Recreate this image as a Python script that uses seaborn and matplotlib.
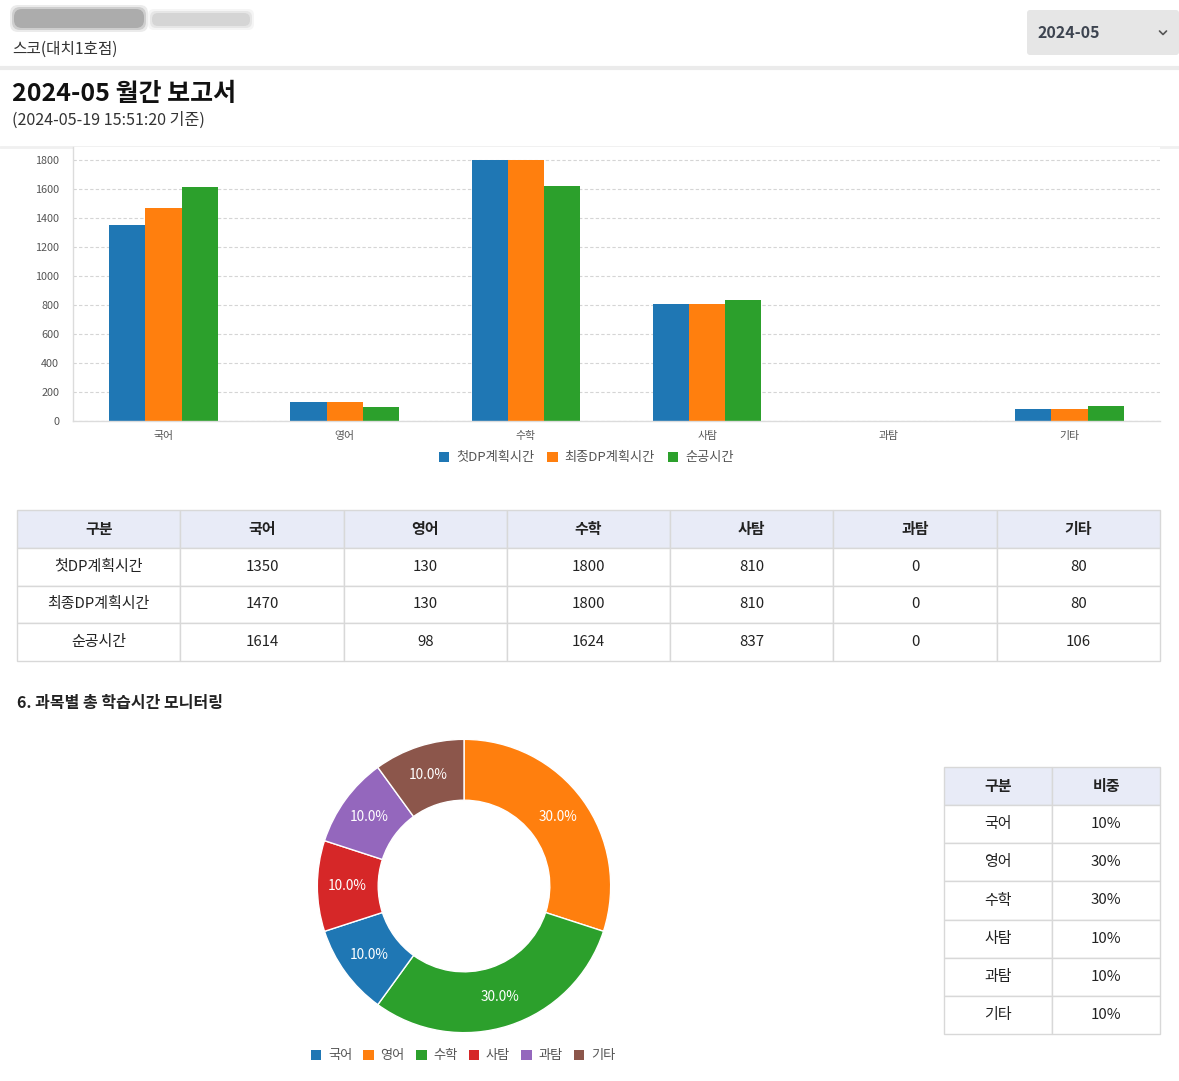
import matplotlib
matplotlib.use('Agg')
import matplotlib.pyplot as plt
from matplotlib.patches import FancyBboxPatch, Patch
import seaborn as sns
import pandas as pd

# Data
subjects = ['국어', '영어', '수학', '사탐', '과탐', '기타']
series_names = ['첫DP계획시간', '최종DP계획시간', '순공시간']
first_plan = [1350, 130, 1800, 810, 0, 80]
final_plan = [1470, 130, 1800, 810, 0, 80]
net_study = [1614, 98, 1624, 837, 0, 106]

pie_subjects = ['국어', '영어', '수학', '사탐', '과탐', '기타']
pie_share = [10, 30, 30, 10, 10, 10]
# order the slices appear clockwise from the top
pie_draw_order = ['영어', '수학', '국어', '사탐', '과탐', '기타']

sns.set_theme(style='white')
plt.rcParams['font.family'] = ['Noto Sans CJK KR', 'DejaVu Sans']

colors = sns.color_palette('tab10', 6)
subject_colors = dict(zip(pie_subjects, colors))

W, H = 1179, 1081
fig = plt.figure(figsize=(W / 100, H / 100), dpi=100, facecolor='white')


def rect(x0, y0, x1, y1):
    return [x0 / W, 1 - y1 / H, (x1 - x0) / W, (y1 - y0) / H]


# Page background / header
bg = fig.add_axes([0, 0, 1, 1])
bg.set_xlim(0, W)
bg.set_ylim(H, 0)
bg.axis('off')

# blurred academy name
for pad, a in [(4, 0.15), (2, 0.25), (0, 0.4)]:
    bg.add_patch(FancyBboxPatch((14 - pad, 9 - pad), 130 + 2 * pad, 19 + 2 * pad,
                                boxstyle='round,pad=0,rounding_size=8',
                                fc='#7a7a7a', ec='none', alpha=a))
    bg.add_patch(FancyBboxPatch((152 - pad, 13 - pad), 98 + 2 * pad, 13 + 2 * pad,
                                boxstyle='round,pad=0,rounding_size=6',
                                fc='#bdbdbd', ec='none', alpha=a))
bg.text(12, 49, '스코(대치1호점)', fontsize=11.3, color='#333', va='center')

# month selector
bg.add_patch(FancyBboxPatch((1027, 10), 152, 45, boxstyle='round,pad=0,rounding_size=3',
                            fc='#e6e6e6', ec='none'))
bg.text(1038, 33, '2024-05', fontsize=11.5, fontweight='bold', color='#3d4450', va='center')
bg.plot([1159.5, 1163, 1166.5], [31, 34.5, 31], color='#555', lw=1.2)

bg.plot([0, W], [68, 68], color='#ebebeb', lw=3)
bg.text(12, 94, '2024-05 월간 보고서', fontsize=18, fontweight='bold', color='#111', va='center')
bg.text(12, 120, '(2024-05-19 15:51:20 기준)', fontsize=11.6, color='#333', va='center')
bg.plot([0, W], [147, 147], color='#f0f0f0', lw=2)
bg.text(17, 703, '6. 과목별 총 학습시간 모니터링', fontsize=11.5, fontweight='bold',
        color='#222', va='center')

# Bar chart
df = pd.DataFrame({
    '과목': subjects * 3,
    '구분': [s for s in series_names for _ in subjects],
    '시간': first_plan + final_plan + net_study,
})
bar_ax = fig.add_axes(rect(73, 147, 1160, 421))
sns.barplot(data=df, x='과목', y='시간', hue='구분', palette=colors[:3], width=0.6,
            saturation=1, ax=bar_ax, linewidth=0)
bar_ax.set_ylim(0, 1890)
bar_ax.set_yticks(range(0, 1801, 200))
bar_ax.set_xlabel('')
bar_ax.set_ylabel('')
bar_ax.yaxis.grid(True, color='#d5d5d5', linestyle=(0, (3, 2)), lw=0.8)
bar_ax.set_axisbelow(True)
for side in ['top', 'right']:
    bar_ax.spines[side].set_visible(False)
for side in ['left', 'bottom']:
    bar_ax.spines[side].set_color('#dcdcdc')
    bar_ax.spines[side].set_linewidth(1)
bar_ax.tick_params(axis='y', length=6, width=1, color='#e3e3e3', pad=4,
                   labelsize=7.8, labelcolor='#555')
bar_ax.tick_params(axis='x', length=0, pad=7, labelsize=7.8, labelcolor='#555')
bar_ax.legend(loc='center', bbox_to_anchor=(0.472, -0.135), ncol=3, frameon=False,
              fontsize=9.5, handlelength=0.8, handleheight=0.8, handletextpad=0.5,
              columnspacing=1.0, labelcolor='#555')

# Table 1
t1_ax = fig.add_axes(rect(17, 510, 1160, 661))
t1_ax.axis('off')
rows1 = [[name] + [str(v) for v in vals]
         for name, vals in zip(series_names, [first_plan, final_plan, net_study])]
t1 = t1_ax.table(cellText=rows1, colLabels=['구분'] + subjects, bbox=[0, 0, 1, 1],
                 cellLoc='center')
t1.auto_set_font_size(False)
t1.set_fontsize(10.8)

# Donut
pie_ax = fig.add_axes(rect(310, 732, 618, 1040))
draw_vals = [pie_share[pie_subjects.index(s)] for s in pie_draw_order]
draw_cols = [subject_colors[s] for s in pie_draw_order]
pie_ax.pie(draw_vals, colors=draw_cols, startangle=90, counterclock=False,
           autopct='%.1f%%', pctdistance=0.795,
           wedgeprops=dict(width=0.415, edgecolor='white', linewidth=1),
           textprops=dict(color='white', fontsize=9.8))
pie_ax.set_xlim(-1.05, 1.05)
pie_ax.set_ylim(-1.05, 1.05)
pie_ax.set_aspect('equal')

handles = [Patch(facecolor=subject_colors[s], edgecolor='none') for s in pie_subjects]
fig.legend(handles, pie_subjects, loc='center', bbox_to_anchor=(463 / W, 1 - 1056 / H),
           ncol=6, frameon=False, fontsize=9.5, handlelength=0.8, handleheight=0.8,
           handletextpad=0.5, columnspacing=0.85, labelcolor='#555')

# Table 2
t2_ax = fig.add_axes(rect(944, 767, 1160, 1034))
t2_ax.axis('off')
rows2 = [[s, f'{v}%'] for s, v in zip(pie_subjects, pie_share)]
t2 = t2_ax.table(cellText=rows2, colLabels=['구분', '비중'], bbox=[0, 0, 1, 1],
                 cellLoc='center')
t2.auto_set_font_size(False)
t2.set_fontsize(10.8)

for tbl in (t1, t2):
    for (r, c), cell in tbl.get_celld().items():
        cell.set_edgecolor('#d8d8d8')
        cell.set_linewidth(1)
        cell.get_text().set_color('#222')
        if r == 0:
            cell.set_facecolor('#e8ebf7')
            cell.get_text().set_fontweight('bold')

fig.savefig('out.png', dpi=100, facecolor='white')
